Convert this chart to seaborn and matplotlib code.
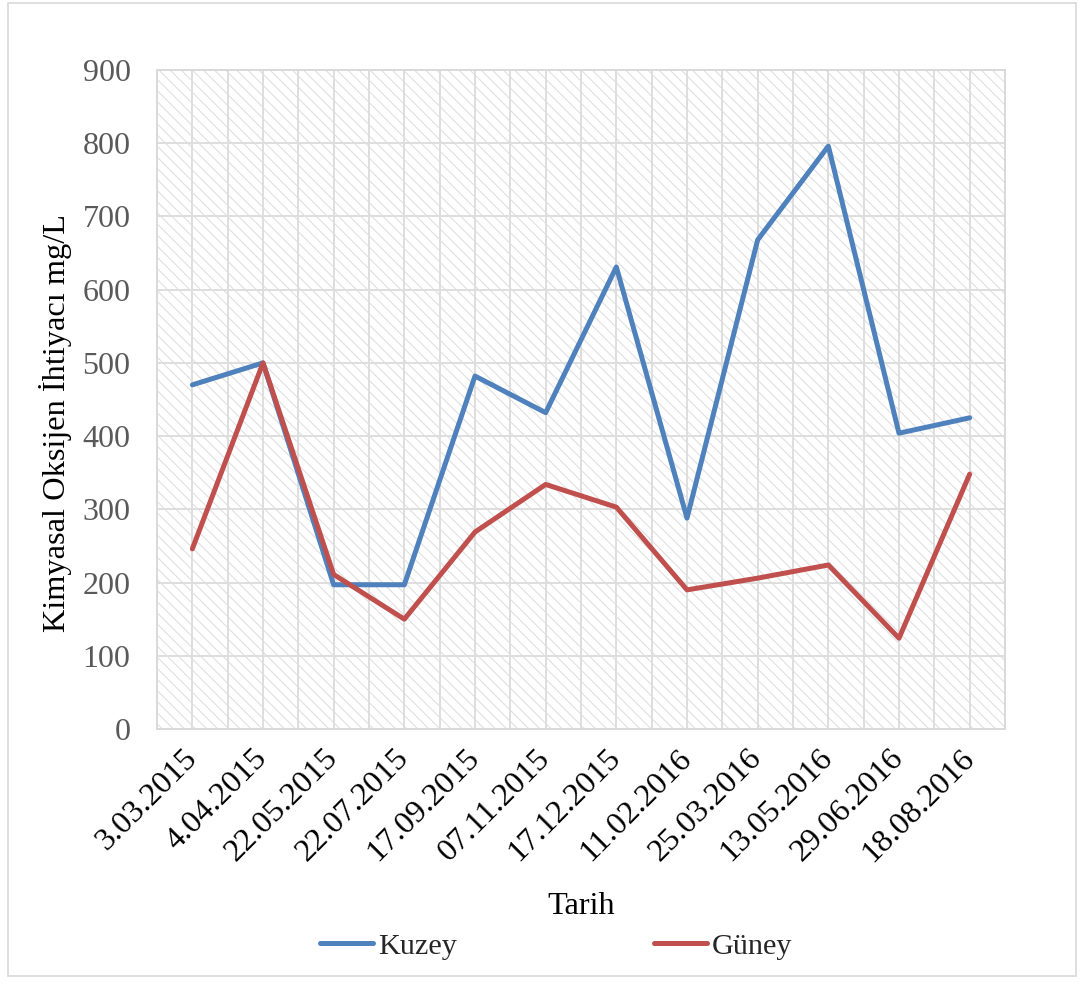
import numpy as np
import pandas as pd
import matplotlib
matplotlib.use("Agg")
import matplotlib.pyplot as plt
import seaborn as sns
from matplotlib.patches import Rectangle
from matplotlib.ticker import MultipleLocator, FixedLocator

dates = ["3.03.2015", "4.04.2015", "22.05.2015", "22.07.2015", "17.09.2015",
         "07.11.2015", "17.12.2015", "11.02.2016", "25.03.2016", "13.05.2016",
         "29.06.2016", "18.08.2016"]
kuzey = [470, 500, 197, 197, 482, 432, 631, 288, 668, 796, 404, 425]
guney = [246, 500, 211, 150, 269, 334, 303, 190, 206, 224, 124, 348]
series_names = ["Kuzey", "Güney"]
colors = {"Kuzey": "#4F81BD", "Güney": "#C0504D"}

sns.set_theme(style="white")
plt.rcParams["font.family"] = ["Liberation Serif", "DejaVu Serif"]
plt.rcParams["hatch.linewidth"] = 0.7

df = pd.DataFrame({
    "Tarih": dates * 2,
    "value": kuzey + guney,
    "series": [series_names[0]] * len(dates) + [series_names[1]] * len(dates),
})

FS = 23.3
W, H = 1086, 984
fig = plt.figure(figsize=(W / 100, H / 100), dpi=100)
fig.patch.set_facecolor("white")
ax = fig.add_axes([157 / W, 1 - 729 / H, 848 / W, 659 / H])

bg = Rectangle((0, 0), 1, 1, transform=ax.transAxes, facecolor="white",
               edgecolor="#dcdcdc", lw=0, hatch="\\\\\\", zorder=0)
ax.add_patch(bg)

sns.lineplot(data=df, x="Tarih", y="value", hue="series", palette=colors,
             lw=3.6, sort=False, ax=ax, zorder=3)

ax.set_xlim(-0.5, len(dates) - 0.5)
ax.set_ylim(0, 900)
ax.yaxis.set_major_locator(MultipleLocator(100))
ax.xaxis.set_minor_locator(FixedLocator(np.arange(-0.5, len(dates), 1)))
ax.set_axisbelow(True)
ax.grid(True, which="major", color="#dedede", lw=1.4)
ax.grid(True, which="minor", axis="x", color="#dedede", lw=1.4)

for s in ax.spines.values():
    s.set_color("#d9d9d9")
    s.set_linewidth(1.4)

ax.tick_params(axis="x", which="both", length=0, labelsize=FS, pad=18, labelcolor="black")
ax.tick_params(axis="y", which="both", length=0, labelsize=23, pad=19, labelcolor="#595959")
plt.setp(ax.get_xticklabels(), rotation=45, ha="right", va="center", rotation_mode="anchor")

ax.set_xlabel("Tarih", fontsize=FS, color="black")
ax.set_ylabel("Kimyasal Oksijen İhtiyacı mg/L", fontsize=FS, color="black")
ax.xaxis.set_label_coords(0.5, (729 - 892) / 659)
ax.yaxis.set_label_coords((72 - 157) / 848, 0.464)

handles, labels = ax.get_legend_handles_labels()
ax.get_legend().remove()
fig.legend(handles, labels, loc="center", bbox_to_anchor=(556 / W, 1 - 946 / H),
           ncol=2, frameon=False, fontsize=21.8, handlelength=1.75,
           handletextpad=0.17, columnspacing=6.5)

fig.patches.append(Rectangle((8 / W, 1 - 976 / H), (1076 - 8) / W, (976 - 3) / H,
                             transform=fig.transFigure, fill=False,
                             edgecolor="#d9d9d9", lw=1.2))

fig.savefig("out.png", dpi=100)
